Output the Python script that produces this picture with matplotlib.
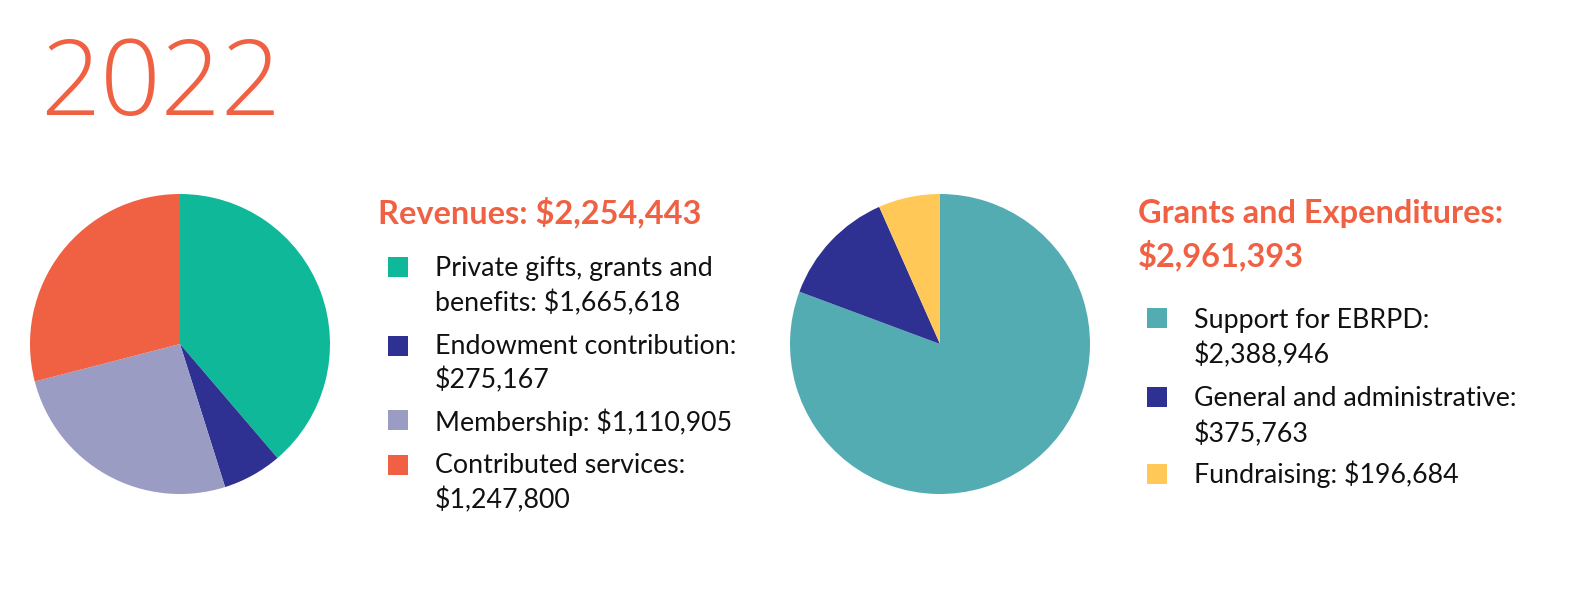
import matplotlib
matplotlib.use("Agg")
import matplotlib.pyplot as plt
from matplotlib.patches import Rectangle

# data
year = "2022"
rev_total = 2254443
rev_labels = ["Private gifts, grants and\nbenefits", "Endowment contribution", "Membership", "Contributed services"]
rev_values = [1665618, 275167, 1110905, 1247800]
rev_break = [False, True, False, True]  # put the amount on its own line
rev_colors = ["#10B89A", "#2E3192", "#9A9CC3", "#F06043"]

exp_total = 2961393
exp_labels = ["Support for EBRPD", "General and administrative", "Fundraising"]
exp_values = [2388946, 375763, 196684]
exp_break = [True, True, False]
exp_colors = ["#52ACB2", "#2E3192", "#FFC857"]

accent = "#F06043"
W, H = 1584, 594
plt.rcParams["font.family"] = ["Lato", "DejaVu Sans"]

fig = plt.figure(figsize=(W / 100, H / 100), dpi=100)


def fx(x):
    return x / W


def fy(y):
    return 1 - y / H


def pie_axes(cx, cy, r, values, colors):
    ax = fig.add_axes([fx(cx - r), fy(cy + r), 2 * r / W, 2 * r / H])
    ax.pie(values, colors=colors, startangle=90, counterclock=False,
           wedgeprops=dict(linewidth=0))
    ax.set_xlim(-1, 1)
    ax.set_ylim(-1, 1)
    ax.set_aspect("equal")
    ax.axis("off")
    return ax


def legend_lines(labels, values, breaks):
    items = []
    for lab, v, b in zip(labels, values, breaks):
        amt = "${:,}".format(v)
        if b:
            items.append([lab + ":", amt])
        else:
            items.append((lab + ": " + amt).split("\n"))
    return items


def draw_legend(items, colors, sq_x, sq_tops, text_x, baselines, size):
    k = 0
    for lines, col, top in zip(items, colors, sq_tops):
        fig.patches.append(Rectangle((fx(sq_x), fy(top + 20)), 20 / W, 20 / H,
                                     transform=fig.transFigure, color=col, lw=0))
        for ln in lines:
            fig.text(fx(text_x), fy(baselines[k]), ln, fontsize=size,
                     color="#111111", va="baseline", ha="left")
            k += 1


fig.text(fx(40), fy(115), year, fontsize=76, color=accent, fontweight=300,
         family=["Open Sans", "DejaVu Sans"], va="baseline", ha="left")

# revenues
pie_axes(180, 344, 150, rev_values, rev_colors)
fig.text(fx(378), fy(223), "Revenues: ${:,}".format(rev_total), fontsize=23.4,
         fontweight="bold", color=accent, va="baseline")
draw_legend(legend_lines(rev_labels, rev_values, rev_break), rev_colors,
            388, [257, 336, 410, 455], 435,
            [276, 311, 354, 388, 431, 473, 508], 19.3)

# grants and expenditures
pie_axes(940, 344, 150, exp_values, exp_colors)
fig.text(fx(1138), fy(223), "Grants and Expenditures:", fontsize=23.4,
         fontweight="bold", color=accent, va="baseline")
fig.text(fx(1138), fy(266), "${:,}".format(exp_total), fontsize=23.4,
         fontweight="bold", color=accent, va="baseline")
draw_legend(legend_lines(exp_labels, exp_values, exp_break), exp_colors,
            1147, [308, 387, 464], 1194,
            [328, 363, 406, 442, 483], 19.3)

fig.savefig("out.png", dpi=100)
